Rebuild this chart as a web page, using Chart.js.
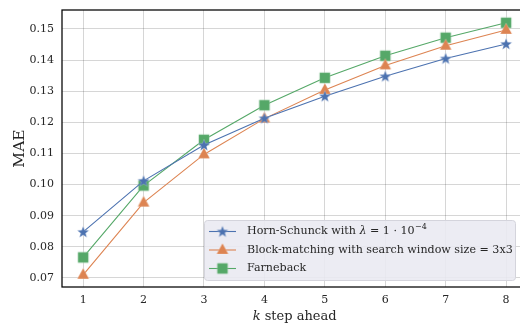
<!DOCTYPE html>
<html><head><meta charset="utf-8">
<script src="https://cdn.jsdelivr.net/npm/chart.js@4/dist/chart.umd.min.js"></script>
<style>html,body{margin:0;padding:0;background:#fff}canvas{display:block}</style>
</head><body>
<canvas id="c" width="520" height="327"></canvas>
<script>
const categories = [1, 2, 3, 4, 5, 6, 7, 8];
const hornSchunck = [0.0848, 0.1012, 0.1127, 0.1213, 0.1284, 0.1348, 0.1405, 0.1452];
const blockMatching = [0.0710, 0.0942, 0.1097, 0.1212, 0.1304, 0.1383, 0.1446, 0.1497];
const farneback = [0.0766, 0.0997, 0.1144, 0.1255, 0.1343, 0.1414, 0.1472, 0.1520];
const xTicks = [1, 2, 3, 4, 5, 6, 7, 8];
const yTicks = [0.07, 0.08, 0.09, 0.10, 0.11, 0.12, 0.13, 0.14, 0.15];
const seriesLabels = ['Horn-Schunck', 'Block-matching with search window size = 3x3', 'Farneback'];

const BLUE = '#4C72B0', ORANGE = '#DD8452', GREEN = '#55A868';
const FONT = '"DejaVu Serif", serif';
const TXT = '#262626';

function makeMarker(kind, color) {
  const s = 16, c = document.createElement('canvas');
  c.width = s; c.height = s;
  const g = c.getContext('2d');
  g.fillStyle = color;
  g.strokeStyle = 'rgba(255,255,255,0.35)';
  g.lineWidth = 0.6;
  g.beginPath();
  const cx = s / 2, cy = s / 2;
  if (kind === 'star') {
    const R = 6.2, r = 2.6;
    for (let i = 0; i < 10; i++) {
      const a = -Math.PI / 2 + i * Math.PI / 5;
      const rr = i % 2 ? r : R;
      const px = cx + rr * Math.cos(a), py = cy + 0.4 + rr * Math.sin(a);
      i ? g.lineTo(px, py) : g.moveTo(px, py);
    }
  } else if (kind === 'tri') {
    const R = 6.8;
    g.moveTo(cx, cy - R);
    g.lineTo(cx + R * 0.866, cy + R * 0.5 + 0.6);
    g.lineTo(cx - R * 0.866, cy + R * 0.5 + 0.6);
  } else {
    g.rect(cx - 5.3, cy - 5.3, 10.6, 10.6);
  }
  g.closePath();
  g.fill();
  g.stroke();
  return c;
}
const mStar = makeMarker('star', BLUE);
const mTri = makeMarker('tri', ORANGE);
const mSq = makeMarker('sq', GREEN);

function pts(arr) { return categories.map((x, i) => ({ x: x, y: arr[i] })); }

const datasets = [
  { label: seriesLabels[0], data: pts(hornSchunck), borderColor: BLUE, backgroundColor: BLUE, pointStyle: mStar, marker: mStar },
  { label: seriesLabels[1], data: pts(blockMatching), borderColor: ORANGE, backgroundColor: ORANGE, pointStyle: mTri, marker: mTri },
  { label: seriesLabels[2], data: pts(farneback), borderColor: GREEN, backgroundColor: GREEN, pointStyle: mSq, marker: mSq }
].map(d => Object.assign(d, { borderWidth: 1.1, tension: 0, fill: false, pointRadius: 6, clip: false }));

const framePlugin = {
  id: 'frame',
  beforeDatasetsDraw(chart) {
    const { ctx, chartArea: a } = chart;
    ctx.save();
    ctx.strokeStyle = '#000';
    ctx.lineWidth = 1.25;
    ctx.strokeRect(a.left, a.top, a.right - a.left + 10, a.bottom - a.top);
    ctx.restore();
  },
  afterDatasetsDraw(chart) {
    const { ctx, chartArea: a, scales } = chart;
    ctx.save();
    // legend
    const bx = 204.5, by = 220.5, bw = 311, bh = 60;
    ctx.fillStyle = 'rgba(234,234,242,0.9)';
    ctx.strokeStyle = '#d4d4dc';
    ctx.lineWidth = 1;
    ctx.beginPath();
    ctx.roundRect(bx, by, bw, bh, 3);
    ctx.fill(); ctx.stroke();
    const rowsY = [231.5, 250, 268.5];
    const fs = 11.1;
    ctx.font = fs + 'px ' + FONT;
    ctx.textBaseline = 'middle';
    chart.data.datasets.forEach((d, i) => {
      const y = rowsY[i];
      ctx.strokeStyle = d.borderColor;
      ctx.lineWidth = 1.1;
      ctx.beginPath(); ctx.moveTo(209, y); ctx.lineTo(236, y); ctx.stroke();
      ctx.drawImage(d.marker, 222.5 - 8, y - 8);
      ctx.fillStyle = TXT;
      let x = 247;
      if (i === 0) {
        ctx.font = fs + 'px ' + FONT;
        const t1 = d.label + ' with ';
        ctx.fillText(t1, x, y); x += ctx.measureText(t1).width;
        ctx.font = 'italic ' + fs + 'px ' + FONT;
        ctx.fillText('λ', x, y); x += ctx.measureText('λ').width;
        ctx.font = fs + 'px ' + FONT;
        const t2 = ' = 1 · 10';
        ctx.fillText(t2, x, y); x += ctx.measureText(t2).width;
        ctx.font = '8px ' + FONT;
        ctx.fillText('−4', x + 0.5, y - 4.5);
        ctx.font = fs + 'px ' + FONT;
      } else {
        ctx.fillText(d.label, x, y);
      }
    });
    // axis titles
    ctx.fillStyle = TXT;
    ctx.textBaseline = 'middle';
    const cx = scales.x.getPixelForValue(4.5);
    ctx.font = 'italic 13px ' + FONT;
    const kW = ctx.measureText('k').width;
    ctx.font = '13px ' + FONT;
    const restW = ctx.measureText(' step ahead').width;
    let sx = cx - (kW + restW) / 2;
    ctx.font = 'italic 13px ' + FONT;
    ctx.fillText('k', sx, 317);
    ctx.font = '13px ' + FONT;
    ctx.fillText(' step ahead', sx + kW, 317);
    ctx.translate(19.5, (a.top + a.bottom) / 2);
    ctx.rotate(-Math.PI / 2);
    ctx.textAlign = 'center';
    ctx.font = '15.5px ' + FONT;
    ctx.fillText('MAE', 0, 0);
    ctx.restore();
  }
};

new Chart(document.getElementById('c'), {
  type: 'line',
  data: { datasets },
  options: {
    responsive: false,
    animation: false,
    devicePixelRatio: 1,
    layout: { autoPadding: false, padding: { top: 10, left: 0, right: 0, bottom: 0 } },
    plugins: { legend: { display: false }, tooltip: { enabled: false } },
    scales: {
      x: {
        type: 'linear', min: 0.65, max: 8.23,
        afterBuildTicks: s => { s.ticks = xTicks.map(v => ({ value: v })); },
        afterFit: s => { s.height = 40; s.paddingLeft = 0; s.paddingRight = 0; },
        grid: { color: 'rgba(0,0,0,0.16)', lineWidth: 1, drawTicks: false },
        border: { display: false },
        ticks: { padding: 7, color: TXT, font: { family: FONT, size: 11 }, callback: v => String(v) }
      },
      y: {
        type: 'linear', min: 0.0671, max: 0.1561,
        afterBuildTicks: s => { s.ticks = yTicks.map(v => ({ value: v })); },
        afterFit: s => { s.width = 62; s.paddingTop = 0; s.paddingBottom = 0; },
        grid: { color: 'rgba(0,0,0,0.16)', lineWidth: 1, drawTicks: false },
        border: { display: false },
        ticks: { padding: 8, color: TXT, font: { family: FONT, size: 11 }, callback: v => v.toFixed(2) }
      }
    }
  },
  plugins: [framePlugin]
});
</script>
</body></html>
